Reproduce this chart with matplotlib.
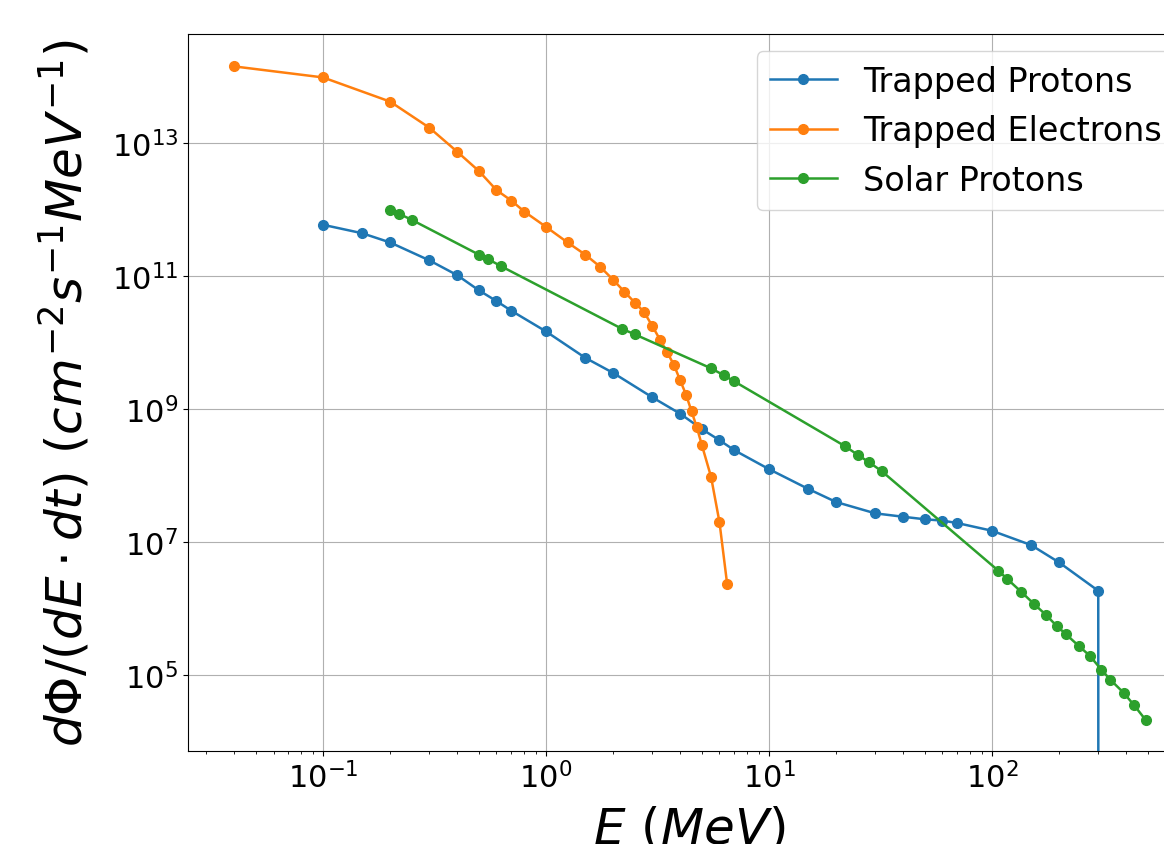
"""Plot differential flux spectra of trapped and solar particles."""

import matplotlib

matplotlib.use("Agg")
import matplotlib.pyplot as plt

# Trapped protons (last point is zero flux -> drops off the log axis)
tp_energy = [0.1, 0.15, 0.2, 0.3, 0.4, 0.5, 0.6, 0.7, 1.0, 1.5, 2.0, 3.0, 4.0, 5.0,
             6.0, 7.0, 10, 15, 20, 30, 40, 50, 60, 70, 100, 150, 200, 300, 400]
tp_flux = [5.9e11, 4.4e11, 3.2e11, 1.72e11, 1.03e11, 6.1e10, 4.2e10, 3.0e10,
           1.47e10, 5.9e9, 3.5e9, 1.5e9, 8.5e8, 5.0e8, 3.4e8, 2.4e8, 1.25e8,
           6.3e7, 4.0e7, 2.7e7, 2.4e7, 2.2e7, 2.1e7, 1.93e7, 1.48e7, 9.0e6,
           4.95e6, 1.85e6, 0.0]

# Trapped electrons
te_energy = [0.04, 0.1, 0.2, 0.3, 0.4, 0.5, 0.6, 0.7, 0.8, 1.0, 1.25, 1.5, 1.75,
             2.0, 2.25, 2.5, 2.75, 3.0, 3.25, 3.5, 3.75, 4.0, 4.25, 4.5, 4.75,
             5.0, 5.5, 6.0, 6.5]
te_flux = [1.42e14, 9.7e13, 4.2e13, 1.7e13, 7.4e12, 3.8e12, 1.96e12, 1.36e12,
           9.3e11, 5.5e11, 3.2e11, 2.1e11, 1.38e11, 8.8e10, 5.8e10, 4.0e10,
           2.9e10, 1.77e10, 1.1e10, 7.1e9, 4.6e9, 2.7e9, 1.64e9, 9.2e8, 5.3e8,
           2.9e8, 9.6e7, 2.0e7, 2.3e6]

# Solar protons
sp_energy = [0.2, 0.22, 0.25, 0.5, 0.55, 0.63, 2.2, 2.5, 5.5, 6.3, 7.0, 22, 25,
             28, 32, 107, 117, 135, 155, 175, 195, 215, 245, 275, 310, 340, 390,
             435, 490]
sp_flux = [1.0e12, 8.6e11, 7.0e11, 2.1e11, 1.8e11, 1.4e11, 1.6e10, 1.33e10,
           4.1e9, 3.2e9, 2.6e9, 2.75e8, 2.05e8, 1.6e8, 1.17e8, 3.7e6, 2.8e6,
           1.8e6, 1.16e6, 8.0e5, 5.5e5, 4.1e5, 2.75e5, 1.95e5, 1.2e5, 8.5e4,
           5.4e4, 3.5e4, 2.1e4]


def main() -> None:
    """Draw the spectra."""
    fig = plt.figure(figsize=(11.64, 8.45), dpi=100)
    ax = fig.add_axes([0.1615, 0.110, 0.8615, 0.8486])

    style = dict(marker="o", markersize=7, linewidth=1.8)
    ax.plot(tp_energy, tp_flux, label="Trapped Protons", **style)
    ax.plot(te_energy, te_flux, label="Trapped Electrons", **style)
    ax.plot(sp_energy, sp_flux, label="Solar Protons", **style)

    ax.set_xscale("log")
    ax.set_yscale("log")
    ax.set_xlim(0.0248, 780)
    ax.set_ylim(10 ** 3.857, 10 ** 14.64)
    ax.grid(True)
    ax.tick_params(labelsize=22)

    ax.set_xlabel(r"$E\ (MeV)$", fontsize=36, labelpad=8)
    ax.set_ylabel(r"$d\Phi/(dE\cdot dt)\ (cm^{-2}s^{-1}MeV^{-1})$",
                  fontsize=36, labelpad=14)
    ax.legend(loc="upper left", bbox_to_anchor=(0.567, 0.976),
              borderaxespad=0, fontsize=24)

    fig.savefig("out.png", dpi=100)


if __name__ == "__main__":
    main()
